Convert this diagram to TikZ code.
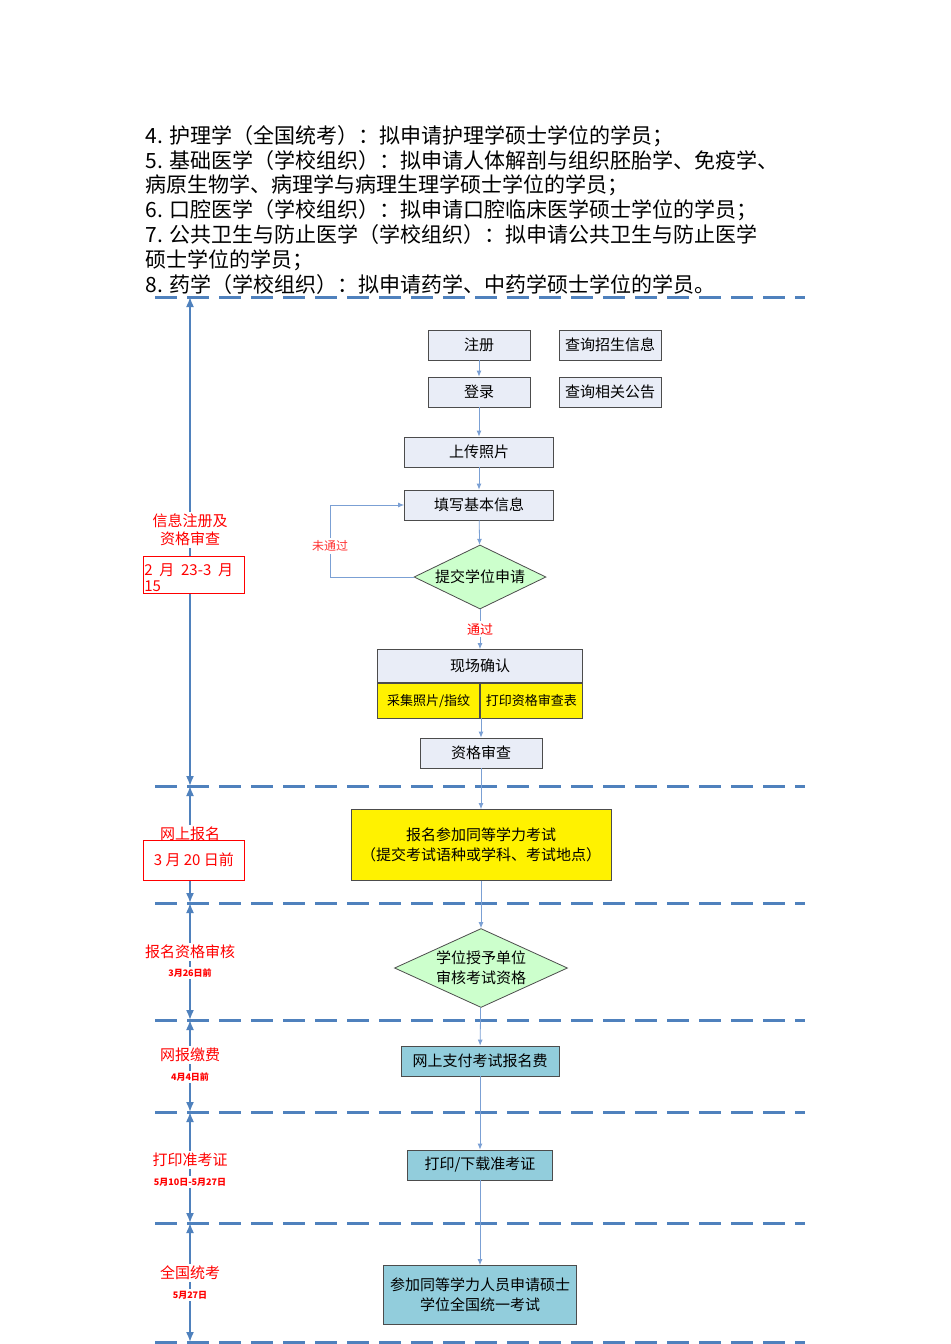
\documentclass[tikz,border=0pt]{standalone}
\usepackage{fontspec}
\setmainfont{Noto Sans CJK SC}
\usetikzlibrary{shapes.geometric,arrows.meta}
\definecolor{steel}{HTML}{4F81BD}
\definecolor{sepblue}{HTML}{4472C4}
\definecolor{paleblue}{HTML}{E9EDF7}
\definecolor{teal_box}{HTML}{92CDDC}
\definecolor{mint}{HTML}{CCFFCC}
\definecolor{flowblue}{HTML}{7BA0D4}

\begin{document}
\begin{tikzpicture}[x=0.5pt,y=-0.5pt,
    box/.style={draw=black!70,fill=paleblue,minimum height=15pt,font=\fontsize{7.5}{9}\selectfont,inner sep=1pt},
    tealbox/.style={box,fill=teal_box},
    cell/.style={box,fill=yellow,minimum height=17.5pt,minimum width=51pt,font=\fontsize{6.5}{8}\selectfont},
    choice/.style={diamond,aspect=2,draw=black!70,fill=mint,inner sep=0pt,font=\fontsize{7.5}{9}\selectfont,align=center},
    flow/.style={draw=flowblue,-{Latex[length=3pt,width=2.5pt]}},
    stage/.style={text=red,font=\fontsize{7.5}{9}\selectfont,fill=white,align=center,inner sep=1pt},
    date/.style={text=red,font=\fontsize{4.5}{5}\selectfont\bfseries,fill=white,inner sep=1pt},
    datebox/.style={draw=red,text=red,minimum width=50.5pt,font=\fontsize{7.5}{9}\selectfont,fill=white,inner sep=1pt},
    sep/.style={draw=steel,line width=1.5pt,dash pattern=on 11pt off 5pt},
    axis/.style={draw=steel,line width=0.8pt,-{Latex[length=5pt,width=4pt]}}]
    \useasboundingbox (0,0) rectangle (950,1344);

    % text above the chart
    \begin{scope}[font=\fontsize{10.5}{12.4}\selectfont]
    \node[anchor=north west,align=left,inner sep=0pt] (intro) at (145,125) {
        4. 护理学（全国统考）：拟申请护理学硕士学位的学员；\\
        5. 基础医学（学校组织）：拟申请人体解剖与组织胚胎学、免疫学、\\
        病原生物学、病理学与病理生理学硕士学位的学员；\\
        6. 口腔医学（学校组织）：拟申请口腔临床医学硕士学位的学员；\\
        7. 公共卫生与防止医学（学校组织）：拟申请公共卫生与防止医学\\
        硕士学位的学员；\\
        8. 药学（学校组织）：拟申请药学、中药学硕士学位的学员。};
    \end{scope}

    % stage separators
    \foreach \y in {297,786,903,1020,1112,1223,1342}
        \draw[sep] (155,\y) -- (805,\y);

    % time axis
    \coordinate (t0) at (190,297);
    \coordinate (t1) at (190,786);
    \coordinate (t2) at (190,903);
    \coordinate (t3) at (190,1020);
    \coordinate (t4) at (190,1112);
    \coordinate (t5) at (190,1223);
    \coordinate (t6) at (190,1342);
    \draw[axis] (190,540) -- (t0);
    \draw[axis] (190,540) -- (t1);
    \draw[axis] (190,845) -- (t1);
    \draw[axis] (190,845) -- (t2);
    \draw[axis] (190,960) -- (t2);
    \draw[axis] (190,960) -- (t3);
    \draw[axis] (190,1065) -- (t3);
    \draw[axis] (190,1065) -- (t4);
    \draw[axis] (190,1170) -- (t4);
    \draw[axis] (190,1170) -- (t5);
    \draw[axis] (190,1283) -- (t5);
    \draw[axis] (190,1283) -- (t6);

    % stage labels
    \node[stage] (s1) at (190,530) {信息注册及\\资格审查};
    \node[datebox,minimum height=18.5pt] (d1) at (193.5,574.5) {};
    \node[text=red,font=\fontsize{7.5}{8}\selectfont,anchor=north west,inner sep=0pt,align=left] (d1text) at (144,563) {2\ \ 月\ \ 23-3\ \ 月\\15};
    \node[stage] (s2) at (190,834) {网上报名};
    \node[datebox,minimum height=20pt,anchor=west] (d2) at (143,860) {3 月 20 日前};
    \node[stage] (s3) at (190,952) {报名资格审核};
    \node[date] (d3) at (190,973) {3月26日前};
    \node[stage] (s4) at (190,1055) {网报缴费};
    \node[date] (d4) at (190,1077) {4月4日前};
    \node[stage] (s5) at (190,1160) {打印准考证};
    \node[date] (d5) at (190,1182) {5月10日-5月27日};
    \node[stage] (s6) at (190,1273) {全国统考};
    \node[date] (d6) at (190,1295) {5月27日};

    % flow
    \node[box,minimum width=51pt] (reg) at (479,345) {注册};
    \node[box,minimum width=51pt] (query1) at (610,345) {查询招生信息};
    \node[box,minimum width=51pt] (login) at (479,392) {登录};
    \node[box,minimum width=51pt] (query2) at (610,392) {查询相关公告};
    \node[box,minimum width=74.5pt] (photo) at (479,452) {上传照片};
    \node[box,minimum width=74.5pt] (info) at (479,505) {填写基本信息};
    \node[choice,minimum width=66pt,minimum height=32pt] (apply) at (480,577) {提交学位申请};
    \node[box,minimum width=102.5pt,minimum height=16.5pt] (site) at (480,666) {现场确认};
    \node[cell,anchor=north east] (collect) at (site.south) {采集照片/指纹};
    \node[cell,anchor=north west] (print) at (site.south) {打印资格审查表};
    \node[box,minimum width=61pt] (check) at (481,753) {资格审查};
    \node[box,fill=yellow,minimum width=130pt,minimum height=35.5pt,align=center,font=\fontsize{7.5}{10}\selectfont] (signup) at (481,845) {报名参加同等学力考试\\（提交考试语种或学科、考试地点）};
    \node[choice,minimum width=86.5pt,minimum height=37.5pt,font=\fontsize{7.5}{10}\selectfont] (unit) at (481,968) {学位授予单位\\审核考试资格};
    \node[tealbox,minimum width=79pt] (pay) at (480,1061) {网上支付考试报名费};
    \node[tealbox,minimum width=72.5pt] (ticket) at (480,1165) {打印/下载准考证};
    \node[tealbox,minimum width=96.5pt,minimum height=29.5pt,align=center,font=\fontsize{7.5}{10}\selectfont] (exam) at (480,1295) {参加同等学力人员申请硕士\\学位全国统一考试};

    \draw[flow] (reg) -- (login);
    \draw[flow] (login) -- (photo);
    \draw[flow] (photo) -- (info);
    \draw[flow] (info) -- (apply);
    \draw[flow] (apply.west) -- (330,577) -- (330,505) -- (info.west);
    \node[text=red!80,font=\fontsize{6}{7}\selectfont,fill=white,inner sep=1pt] (fail) at (330,546) {未通过};
    \draw[flow] (apply) -- node[text=red,font=\fontsize{6.5}{7}\selectfont,fill=white,inner sep=1pt] (pass) {通过} (site);
    \draw[flow] (481,718) -- (check);
    \draw[flow] (check) -- (signup);
    \draw[flow] (signup) -- (unit);
    \draw[flow] (unit) -- (pay);
    \draw[flow] (pay) -- (ticket);
    \draw[flow] (ticket) -- (exam);
\end{tikzpicture}
\end{document}
